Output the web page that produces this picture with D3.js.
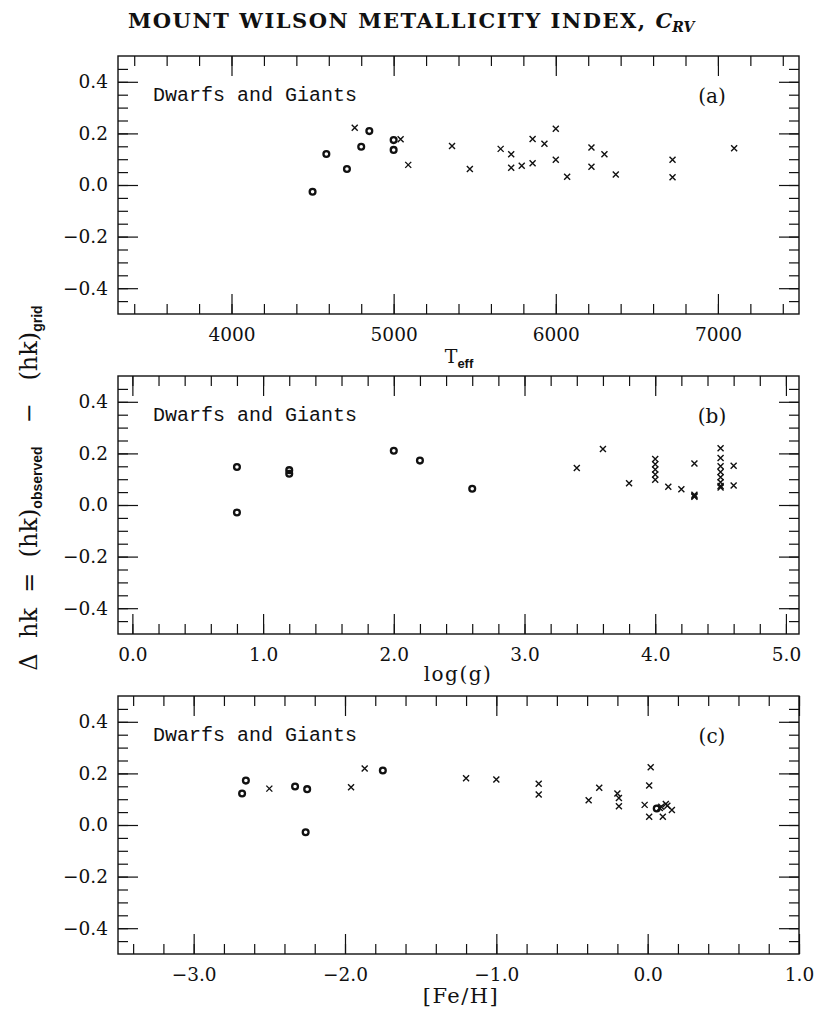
<!DOCTYPE html>
<html>
<head>
<meta charset="utf-8">
<script src="https://cdn.jsdelivr.net/npm/d3@7"></script>
<style>
  body { margin: 0; background: #fff; }
  svg text { fill: #111; }
</style>
</head>
<body>
<div id="chart"></div>
<script>
// values: [x, delta hk]
const teffGiants = [[4500,-0.026],[4585,0.12],[4712,0.062],[4800,0.148],[4850,0.209],[5000,0.174],[5000,0.136]];
const teffDwarfs = [[4760,0.222],[5043,0.177],[5090,0.078],[5360,0.151],[5470,0.062],[5660,0.14],[5725,0.119],
  [5725,0.067],[5790,0.075],[5857,0.178],[5857,0.084],[5930,0.16],[6000,0.218],[6000,0.098],[6070,0.032],
  [6220,0.145],[6220,0.071],[6300,0.119],[6370,0.041],[6720,0.098],[6720,0.03],[7100,0.142]];

const loggGiants = [[0.8,0.147],[0.8,-0.029],[1.2,0.135],[1.2,0.121],[2.0,0.21],[2.2,0.172],[2.6,0.063]];
const loggDwarfs = [[3.4,0.143],[3.6,0.217],[3.8,0.084],[4.0,0.178],[4.0,0.158],[4.0,0.138],[4.0,0.118],
  [4.0,0.098],[4.1,0.071],[4.2,0.061],[4.3,0.161],[4.3,0.04],[4.3,0.035],[4.3,0.032],[4.5,0.22],[4.5,0.182],
  [4.5,0.15],[4.5,0.128],[4.5,0.108],[4.5,0.088],[4.5,0.074],[4.5,0.068],[4.6,0.152],[4.6,0.076]];

const fehGiants = [[-2.68,0.122],[-2.655,0.172],[-2.33,0.149],[-2.25,0.139],[-2.26,-0.028],[-1.75,0.211],[0.06,0.064]];
const fehDwarfs = [[-2.5,0.141],[-1.96,0.146],[-1.87,0.219],[-1.2,0.181],[-1.0,0.176],[-0.72,0.16],[-0.72,0.118],
  [-0.39,0.096],[-0.32,0.144],[-0.2,0.122],[-0.19,0.105],[-0.19,0.073],[-0.02,0.078],[0.01,0.153],[0.02,0.224],
  [0.01,0.032],[0.08,0.066],[0.09,0.071],[0.1,0.032],[0.12,0.081],[0.16,0.058],[0.13,0.075]];

const yMajor = [-0.4,-0.2,0.0,0.2,0.4];
const panelTags = ["(a)", "(b)", "(c)"];
const panelNote = "Dwarfs and Giants";

const width = 814, height = 1014;
const left = 118, right = 799, ph = 258;

const svg = d3.select("#chart").append("svg")
  .attr("width", width).attr("height", height);

// title
const title = svg.append("text")
  .attr("x", 128).attr("y", 28)
  .attr("font-family", "DejaVu Serif")
  .attr("font-weight", "bold")
  .attr("font-size", 21)
  .attr("xml:space", "preserve");
title.append("tspan").attr("textLength", 526).attr("lengthAdjust", "spacing")
  .text("MOUNT WILSON METALLICITY INDEX, ");
title.append("tspan").attr("font-style", "italic").text("C");
title.append("tspan").attr("font-style", "italic").attr("font-size", 14).attr("dy", 4).text("RV");

function drawPanel(top, xDomain, xMajor, xMinorStep, xFmt, giants, dwarfs, tag) {
  const g = svg.append("g");
  const x = d3.scaleLinear().domain(xDomain).range([left, right]);
  const y = d3.scaleLinear().domain([-0.5, 0.5]).range([top + ph, top]);

  const xMinor = d3.range(Math.ceil(xDomain[0] / xMinorStep - 1e-6), Math.floor(xDomain[1] / xMinorStep + 1e-6) + 1)
    .map(i => i * xMinorStep);
  const yMinor = d3.range(-9, 10).map(i => i * 0.05);

  // ticks, all four sides, pointing in
  const addAxis = (axis, tr) => {
    const a = g.append("g").attr("transform", tr).call(axis);
    a.select(".domain").remove();
    a.selectAll("line").attr("stroke", "#111").attr("stroke-width", 1.2);
    return a;
  };
  addAxis(d3.axisBottom(x).tickValues(xMinor).tickSize(-10).tickFormat(""), `translate(0,${top + ph})`);
  addAxis(d3.axisTop(x).tickValues(xMinor).tickSize(-10).tickFormat(""), `translate(0,${top})`);
  addAxis(d3.axisLeft(y).tickValues(yMinor).tickSize(-10).tickFormat(""), `translate(${left},0)`);
  addAxis(d3.axisRight(y).tickValues(yMinor).tickSize(-10).tickFormat(""), `translate(${right},0)`);
  addAxis(d3.axisTop(x).tickValues(xMajor).tickSize(-20).tickFormat(""), `translate(0,${top})`);
  addAxis(d3.axisRight(y).tickValues(yMajor).tickSize(-20).tickFormat(""), `translate(${right},0)`);

  const xa = addAxis(d3.axisBottom(x).tickValues(xMajor).tickSize(-20).tickFormat(xFmt),
    `translate(0,${top + ph})`);
  xa.selectAll("text").attr("font-family", "DejaVu Serif").attr("font-size", 18.5).attr("fill", "#111")
    .attr("dy", 0).attr("y", 27);
  const ya = addAxis(d3.axisLeft(y).tickValues(yMajor).tickSize(-20).tickPadding(10).tickFormat(d3.format(".1f")),
    `translate(${left},0)`);
  ya.selectAll("text").attr("font-family", "DejaVu Serif").attr("font-size", 18.5).attr("fill", "#111")
    .attr("x", -10);

  // frame
  g.append("rect").attr("x", left).attr("y", top).attr("width", right - left).attr("height", ph)
    .attr("fill", "none").attr("stroke", "#111").attr("stroke-width", 1.4);

  g.append("text").attr("x", left + 35).attr("y", top + 45)
    .attr("font-family", "Liberation Mono").attr("font-size", 20).text(panelNote);
  g.append("text").attr("x", 712).attr("y", top + 47).attr("text-anchor", "middle")
    .attr("font-family", "DejaVu Serif").attr("font-size", 20).text(tag);

  // giants: thick open circles
  g.selectAll(".giant").data(giants).enter().append("circle")
    .attr("class", "giant")
    .attr("cx", d => x(d[0])).attr("cy", d => y(d[1])).attr("r", 2.9)
    .attr("fill", "none").attr("stroke", "#111").attr("stroke-width", 2.3);

  // dwarfs: small crosses
  const s = 3;
  g.selectAll(".dwarf").data(dwarfs).enter().append("path")
    .attr("class", "dwarf")
    .attr("d", d => {
      const cx = x(d[0]), cy = y(d[1]);
      return `M${cx - s},${cy - s}L${cx + s},${cy + s}M${cx - s},${cy + s}L${cx + s},${cy - s}`;
    })
    .attr("stroke", "#111").attr("stroke-width", 1.4).attr("fill", "none");

  return g;
}

drawPanel(56, [3300, 7500], [4000, 5000, 6000, 7000], 200, d3.format("d"), teffGiants, teffDwarfs, panelTags[0]);
drawPanel(376, [-0.11, 5.1], [0, 1, 2, 3, 4, 5], 0.2, d3.format(".1f"), loggGiants, loggDwarfs, panelTags[1]);
drawPanel(696, [-3.5, 1.0], [-3, -2, -1, 0, 1], 0.2, d3.format(".1f"), fehGiants, fehDwarfs, panelTags[2]);

// x axis titles
const tl = svg.append("text").attr("x", 459).attr("y", 363).attr("text-anchor", "middle")
  .attr("font-family", "DejaVu Serif").attr("font-size", 19);
tl.append("tspan").text("T");
tl.append("tspan").attr("font-family", "Liberation Sans").attr("font-weight", "bold")
  .attr("font-size", 13).attr("dy", 5).text("eff");

svg.append("text").attr("x", 458).attr("y", 681).attr("text-anchor", "middle")
  .attr("font-family", "DejaVu Serif").attr("font-size", 20).attr("letter-spacing", 1.5).text("log(g)");
svg.append("text").attr("x", 461).attr("y", 1003).attr("text-anchor", "middle")
  .attr("font-family", "DejaVu Serif").attr("font-size", 21).attr("letter-spacing", 1.5).text("[Fe/H]");

// y axis title
const yl = svg.append("text")
  .attr("transform", "translate(37,488) rotate(-90)")
  .attr("text-anchor", "middle")
  .attr("font-family", "DejaVu Serif").attr("font-size", 24)
  .attr("xml:space", "preserve");
yl.append("tspan").text("\u0394  hk  =  (hk)");
yl.append("tspan").attr("font-family", "Liberation Sans").attr("font-weight", "bold")
  .attr("font-size", 14).attr("dy", 5).text("observed");
yl.append("tspan").attr("dy", -5).text("   \u2212   (hk)");
yl.append("tspan").attr("font-family", "Liberation Sans").attr("font-weight", "bold")
  .attr("font-size", 14).attr("dy", 5).text("grid");
</script>
</body>
</html>
